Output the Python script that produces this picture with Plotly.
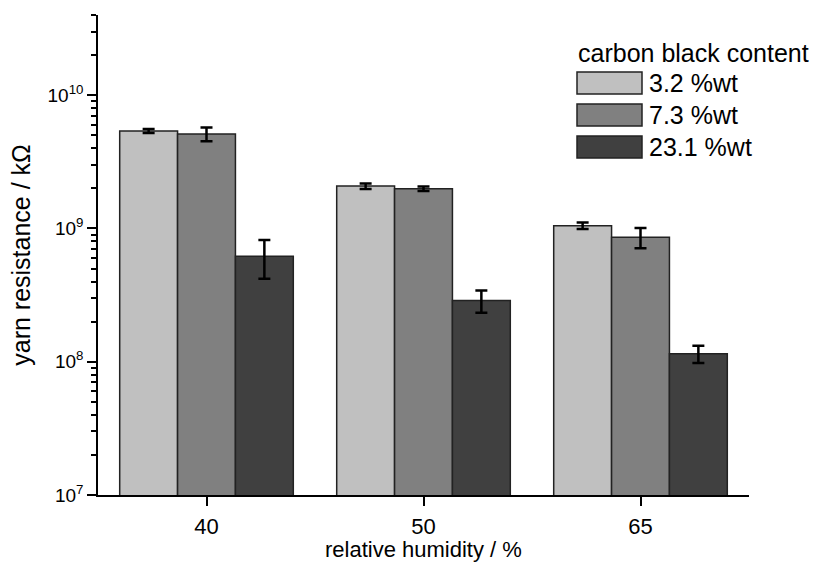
import plotly.graph_objects as go

# ---- data ----
categories = ["40", "50", "65"]
series_names = ["3.2 %wt", "7.3 %wt", "23.1 %wt"]
values_32 = [5.39e9, 2.08e9, 1.05e9]
errors_32 = [0.19e9, 0.10e9, 0.06e9]
values_73 = [5.12e9, 1.99e9, 8.6e8]
errors_73 = [0.60e9, 0.08e9, 1.5e8]
values_231 = [6.2e8, 2.88e8, 1.15e8]
errors_231 = [2.0e8, 0.55e8, 0.17e8]
colors = ["#c0c0c0", "#808080", "#404040"]

x_title = "relative humidity / %"
y_title = "yarn resistance / kΩ"
legend_title = "carbon black content"

W, H = 819, 563
L, R, T, B = 98, 70, 15, 68
pw, ph = W - L - R, H - T - B

FONT = "Arial, Liberation Sans, sans-serif"

fig = go.Figure()
for name, vals, errs, col in zip(series_names,
                                 [values_32, values_73, values_231],
                                 [errors_32, errors_73, errors_231], colors):
    fig.add_trace(go.Bar(
        x=categories, y=vals, name=name,
        marker=dict(color=col, line=dict(color="#222222", width=1.5)),
        error_y=dict(type="data", array=errs, visible=True,
                     color="black", thickness=2.5, width=6),
        showlegend=False,
    ))

major = [1e7, 1e8, 1e9, 1e10]
major_text = ["10<sup>7</sup>", "10<sup>8</sup>", "10<sup>9</sup>", "10<sup>10</sup>"]
minor_vals = [m * d for d in major for m in range(2, 10) if m * d <= 4e10]

fig.update_layout(
    width=W, height=H,
    margin=dict(l=L, r=R, t=T, b=B, autoexpand=False),
    paper_bgcolor="white", plot_bgcolor="white",
    barmode="group", bargap=0.2, bargroupgap=0,
    font=dict(family=FONT, color="black"),
    xaxis=dict(
        range=[-0.5, 2.5], showline=True, linecolor="black", linewidth=1.5,
        ticks="outside", ticklen=9, tickwidth=1.5, tickcolor="black",
        ticklabelstandoff=2, automargin=False,
        tickfont=dict(size=22), showgrid=False, zeroline=False,
    ),
    yaxis=dict(
        type="log", range=[7, 10.602], showline=True, linecolor="black",
        linewidth=1.5, ticks="outside", ticklen=9, tickwidth=1.5,
        tickcolor="black", tickvals=major, ticktext=major_text,
        automargin=False,
        tickfont=dict(size=19), showgrid=False, zeroline=False,
        minor=dict(tickvals=minor_vals, ticks="outside", ticklen=5,
                   tickwidth=1.5, tickcolor="black", showgrid=False),
        title=dict(text=y_title, font=dict(size=25), standoff=10),
    ),
)

# legend drawn manually (rectangular swatches)
def px(xp):
    return (xp - L) / pw

def py(yp):
    return (H - B - yp) / ph

fig.add_annotation(text=x_title, xref="paper", yref="paper",
                   x=0.5, y=py(549), xanchor="center", yanchor="middle",
                   showarrow=False, font=dict(size=22))

fig.add_annotation(text=legend_title, xref="paper", yref="paper",
                   x=px(576), y=py(53), xanchor="left", yanchor="middle",
                   showarrow=False, font=dict(size=25))
for i, (name, col) in enumerate(zip(series_names, colors)):
    y0 = 72 + 32 * i
    fig.add_shape(type="rect", xref="paper", yref="paper",
                  x0=px(577), x1=px(642), y0=py(y0), y1=py(y0 + 22),
                  fillcolor=col, line=dict(color="#222222", width=1.5))
    fig.add_annotation(text=name, xref="paper", yref="paper",
                       x=px(647), y=py(y0 + 11), xanchor="left",
                       yanchor="middle", showarrow=False,
                       font=dict(size=25))

fig.write_html("out.html")
